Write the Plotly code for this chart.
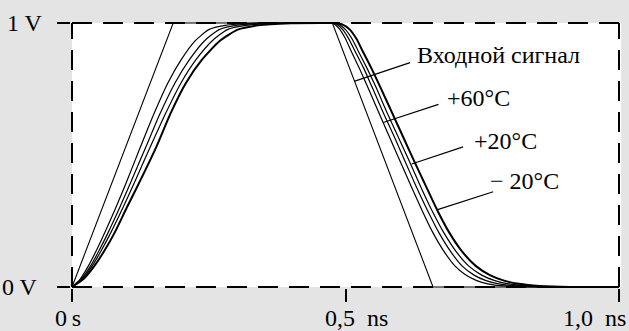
import plotly.graph_objects as go

# ---- data (time in ns, voltage in V) ----
t_input = [0.0, 0.185, 0.476, 0.660, 1.0]
v_input = [0.0, 1.0, 1.0, 0.0, 0.0]

# output curves (rise, flat top, fall)
t_a = [0.0, 0.015, 0.03, 0.045, 0.06, 0.08, 0.10, 0.125, 0.15, 0.175, 0.20, 0.225, 0.25, 0.28, 0.33, 0.38,
       0.47, 0.48, 0.49, 0.50, 0.51, 0.525, 0.54, 0.56, 0.58, 0.60, 0.62, 0.64, 0.66, 0.68, 0.70, 0.72, 0.74, 0.76, 0.79, 0.84, 1.0]
v_a = [0.0, 0.03, 0.08, 0.14, 0.206, 0.30, 0.40, 0.53, 0.657, 0.772, 0.862, 0.932, 0.975, 0.991, 0.999, 1.0,
       1.0, 0.995, 0.975, 0.94, 0.895, 0.83, 0.76, 0.665, 0.57, 0.475, 0.382, 0.29, 0.205, 0.135, 0.08, 0.045, 0.024, 0.012, 0.004, 0.0, 0.0]

t_b = [0.0, 0.017, 0.034, 0.05, 0.066, 0.087, 0.108, 0.135, 0.161, 0.188, 0.215, 0.242, 0.269, 0.30, 0.355, 0.41,
       0.472, 0.484, 0.495, 0.506, 0.517, 0.533, 0.548, 0.568, 0.589, 0.609, 0.629, 0.65, 0.671, 0.692, 0.713, 0.735, 0.757, 0.78, 0.815, 0.87, 1.0]
v_b = [0.0, 0.03, 0.08, 0.14, 0.206, 0.30, 0.40, 0.53, 0.657, 0.772, 0.862, 0.932, 0.975, 0.991, 0.999, 1.0,
       1.0, 0.995, 0.975, 0.94, 0.895, 0.83, 0.76, 0.665, 0.57, 0.475, 0.382, 0.29, 0.205, 0.135, 0.08, 0.045, 0.024, 0.012, 0.004, 0.0, 0.0]

t_c = [0.0, 0.019, 0.037, 0.054, 0.071, 0.093, 0.115, 0.143, 0.171, 0.199, 0.227, 0.256, 0.284, 0.318, 0.375, 0.43,
       0.474, 0.488, 0.50, 0.512, 0.523, 0.539, 0.555, 0.575, 0.596, 0.617, 0.637, 0.658, 0.68, 0.702, 0.725, 0.749, 0.773, 0.798, 0.835, 0.89, 1.0]
v_c = [0.0, 0.03, 0.08, 0.14, 0.206, 0.30, 0.40, 0.53, 0.657, 0.772, 0.862, 0.932, 0.975, 0.991, 0.999, 1.0,
       1.0, 0.995, 0.975, 0.94, 0.895, 0.83, 0.76, 0.665, 0.57, 0.475, 0.382, 0.29, 0.205, 0.135, 0.08, 0.045, 0.024, 0.012, 0.004, 0.0, 0.0]

t_d = [0.0, 0.021, 0.041, 0.06, 0.078, 0.10, 0.124, 0.154, 0.18, 0.208, 0.238, 0.27, 0.303, 0.34, 0.40, 0.46,
       0.476, 0.494, 0.508, 0.52, 0.531, 0.547, 0.563, 0.584, 0.605, 0.626, 0.647, 0.668, 0.69, 0.713, 0.738, 0.764, 0.79, 0.817, 0.855, 0.91, 1.0]
v_d = [0.0, 0.03, 0.08, 0.14, 0.206, 0.30, 0.40, 0.53, 0.657, 0.772, 0.862, 0.932, 0.975, 0.991, 0.999, 1.0,
       1.0, 0.995, 0.975, 0.94, 0.895, 0.83, 0.76, 0.665, 0.57, 0.475, 0.382, 0.29, 0.205, 0.135, 0.08, 0.045, 0.024, 0.012, 0.004, 0.0, 0.0]

x_tick_vals = [0.0, 0.5, 1.0]
x_tick_text = ["0\u2009s", "0,5\u2002ns", "1,0\u2002ns"]
y_tick_vals = [0.0, 1.0]
y_tick_text = ["0 V", "1 V"]

labels = ["Входной сигнал", "+60°C", "+20°C", "− 20°C"]
label_x = [0.627, 0.682, 0.731, 0.7605]
label_y = [0.879, 0.716, 0.553, 0.4015]
leader_x0 = [0.618, 0.670, 0.715, 0.770]
leader_y0 = [0.850, 0.692, 0.531, 0.361]
leader_x1 = [0.517, 0.569, 0.621, 0.667]
leader_y1 = [0.780, 0.623, 0.466, 0.292]

FONT = "Liberation Serif, Nimbus Roman, Noto Serif, FreeSerif, Times, DejaVu Serif, serif"
FSIZE = 24
GRAY = "#e4e4e4"

fig = go.Figure()
fig.add_trace(go.Scatter(x=t_input, y=v_input, mode="lines", line=dict(color="black", width=1.1), hoverinfo="skip"))
for tx, vy, w in [(t_a, v_a, 1.2), (t_b, v_b, 1.2), (t_c, v_c, 1.2), (t_d, v_d, 2.0)]:
    fig.add_trace(go.Scatter(x=tx, y=vy, mode="lines",
                             line=dict(color="black", width=w, shape="spline", smoothing=0.6),
                             hoverinfo="skip"))

shapes = [dict(type="rect", xref="x", yref="y", x0=0, x1=1.004, y0=0, y1=1,
               fillcolor="white", line=dict(width=0), layer="below")]
dash = "20px,11px"
for (x0, y0, x1, y1) in [(0, 1, 1, 1), (0, 0, 1, 0), (0, 0, 0, 1), (1, 0, 1, 1)]:
    shapes.append(dict(type="line", xref="x", yref="y", x0=x0, y0=y0, x1=x1, y1=y1,
                       line=dict(color="black", width=2, dash=dash), layer="above"))
for i in range(len(labels)):
    shapes.append(dict(type="line", xref="x", yref="y", x0=leader_x0[i], y0=leader_y0[i],
                       x1=leader_x1[i], y1=leader_y1[i], line=dict(color="black", width=1.2)))

annotations = []
for i, txt in enumerate(labels):
    annotations.append(dict(x=label_x[i], y=label_y[i], xref="x", yref="y", text=txt, showarrow=False,
                            xanchor="left", yanchor="middle", font=dict(family=FONT, size=FSIZE, color="black")))
# axis labels
x_shift = [-4.5, 10.5, 9]
x_anchor = ["center", "center", "right"]
for i, txt in enumerate(x_tick_text):
    annotations.append(dict(x=x_tick_vals[i], y=-0.112, xref="x", yref="paper", text=txt, showarrow=False,
                            xanchor=x_anchor[i], yanchor="middle", xshift=x_shift[i],
                            font=dict(family=FONT, size=FSIZE, color="black")))
y_lab_x = [-0.0563, -0.0472]
for i, txt in enumerate(y_tick_text):
    annotations.append(dict(x=y_lab_x[i], y=y_tick_vals[i], xref="paper", yref="y", text=txt, showarrow=False,
                            xanchor="right", yanchor="middle",
                            font=dict(family=FONT, size=FSIZE, color="black")))

fig.update_layout(
    width=629, height=331,
    margin=dict(l=71, r=7, t=22, b=43),
    paper_bgcolor=GRAY, plot_bgcolor=GRAY,
    showlegend=False,
    font=dict(family=FONT, size=FSIZE, color="black"),
    shapes=shapes, annotations=annotations,
    xaxis=dict(range=[-1/547, 1 + 3/547], tickvals=x_tick_vals, showticklabels=False,
               ticks="outside", ticklen=13, tickwidth=2, tickcolor="black",
               showgrid=False, zeroline=False, showline=False, fixedrange=True),
    yaxis=dict(range=[-1/264, 1 + 1/264], tickvals=y_tick_vals, showticklabels=False,
               ticks="outside", ticklen=13, tickwidth=2, tickcolor="black",
               showgrid=False, zeroline=False, showline=False, fixedrange=True),
)
fig.write_html("out.html", config={"displayModeBar": False},
               post_script="document.body.style.margin='0';document.body.style.padding='0';")
